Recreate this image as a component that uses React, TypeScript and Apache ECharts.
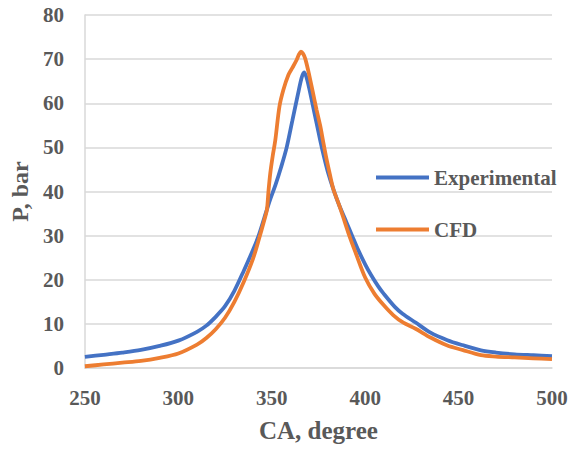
import React, { useEffect, useRef } from "react";
import * as echarts from "echarts";

const xTicks = [250, 300, 350, 400, 450, 500];
const yTicks = [0, 10, 20, 30, 40, 50, 60, 70, 80];

const expCA = [250, 260, 270, 280, 290, 300, 310, 315, 320, 325, 330, 335, 340, 343, 346, 349, 352, 355, 358, 361, 364, 366, 367.3, 368.5, 370, 372, 374, 376, 378, 380, 383, 386, 390, 393, 396, 400, 403, 407, 410, 416, 420, 427, 435, 444, 452, 462, 470, 480, 490, 500];
const expP = [2.5, 3.0, 3.5, 4.1, 5.0, 6.2, 8.2, 9.6, 11.6, 14, 17.5, 22, 26.8, 30, 34, 38, 41.5, 45.5, 50, 56, 62, 65.8, 67, 66, 63.5, 59.5, 55.5, 51.5, 47.8, 44.5, 40.5, 37, 33, 30, 27, 23.5, 21.2, 18.5, 16.8, 13.8, 12.3, 10.3, 8, 6.3, 5.2, 4, 3.5, 3.1, 2.9, 2.7];

const cfdCA = [250, 260, 270, 280, 290, 300, 310, 315, 320, 325, 330, 335, 340, 343, 346, 347.4, 348.3, 349.2, 350.5, 351.9, 354.1, 356.2, 358.9, 361, 363.3, 364.5, 365.6, 366.8, 368, 370, 372, 374, 376, 377.4, 379, 381, 383, 386, 388, 391.5, 395, 400, 405, 410, 415, 420, 427, 435, 444, 452, 462, 470, 480, 490, 500];
const cfdP = [0.4, 0.8, 1.2, 1.6, 2.3, 3.3, 5.3, 6.8, 8.8, 11.4, 15, 19.5, 24.8, 29, 33.5, 35.8, 40.3, 44.1, 48, 51.6, 59.2, 63, 66.4, 68, 69.8, 71, 71.7, 71.2, 70, 66.5, 62.5, 58.5, 54.8, 51.6, 48, 44.1, 40.5, 37, 34.5, 30, 26, 20.5, 16.8, 14.2, 12, 10.4, 8.9, 6.9, 5.1, 4.1, 2.9, 2.6, 2.4, 2.2, 2.0];

const zip = (a: number[], b: number[]) => a.map((v, i) => [v, b[i]]);

export default function App() {
  const ref = useRef<HTMLDivElement>(null);
  useEffect(() => {
    document.body.style.margin = "0";
    const chart = echarts.init(ref.current!, null, { renderer: "svg" });
    const font = "'Liberation Serif', 'Times New Roman', serif";
    const grey = "#595959";
    chart.setOption({
      animation: false,
      backgroundColor: "#ffffff",
      grid: { left: 79, right: 27, top: 15, bottom: 83, containLabel: false },
      legend: {
        orient: "vertical",
        left: 371,
        top: 162,
        icon: "rect",
        itemWidth: 53,
        itemHeight: 4,
        itemGap: 31,
        textStyle: { fontFamily: font, fontWeight: "bold", fontSize: 21, color: grey },
        data: ["Experimental", "CFD"],
      },
      xAxis: {
        type: "value",
        min: xTicks[0],
        max: xTicks[xTicks.length - 1],
        interval: 50,
        name: "CA, degree",
        nameLocation: "middle",
        nameGap: 50,
        nameTextStyle: { fontFamily: font, fontWeight: "bold", fontSize: 25, color: grey },
        axisLine: { show: true, lineStyle: { color: "#D9D9D9", width: 1.5 } },
        axisTick: { show: false },
        splitLine: { show: false },
        axisLabel: { margin: 19, fontFamily: font, fontWeight: "bold", fontSize: 21, color: grey },
      },
      yAxis: {
        type: "value",
        min: yTicks[0],
        max: yTicks[yTicks.length - 1],
        interval: 10,
        name: "P, bar",
        nameLocation: "middle",
        nameGap: 42,
        nameRotate: 90,
        nameTextStyle: { fontFamily: font, fontWeight: "bold", fontSize: 24, color: grey },
        axisLine: { show: true, lineStyle: { color: "#D9D9D9", width: 1.5 } },
        axisTick: { show: false },
        splitLine: { show: true, lineStyle: { color: "#D9D9D9", width: 1.5 } },
        axisLabel: { margin: 21, fontFamily: font, fontWeight: "bold", fontSize: 21, color: grey },
      },
      series: [
        {
          name: "Experimental",
          type: "line",
          data: zip(expCA, expP),
          smooth: 0.3,
          showSymbol: false,
          symbol: "none",
          lineStyle: { color: "#4472C4", width: 3.8 },
          itemStyle: { color: "#4472C4" },
        },
        {
          name: "CFD",
          type: "line",
          data: zip(cfdCA, cfdP),
          smooth: 0.3,
          showSymbol: false,
          symbol: "none",
          lineStyle: { color: "#ED7D31", width: 3.8 },
          itemStyle: { color: "#ED7D31" },
        },
      ],
    });
    return () => chart.dispose();
  }, []);
  return <div ref={ref} style={{ width: 579, height: 451 }} />;
}
